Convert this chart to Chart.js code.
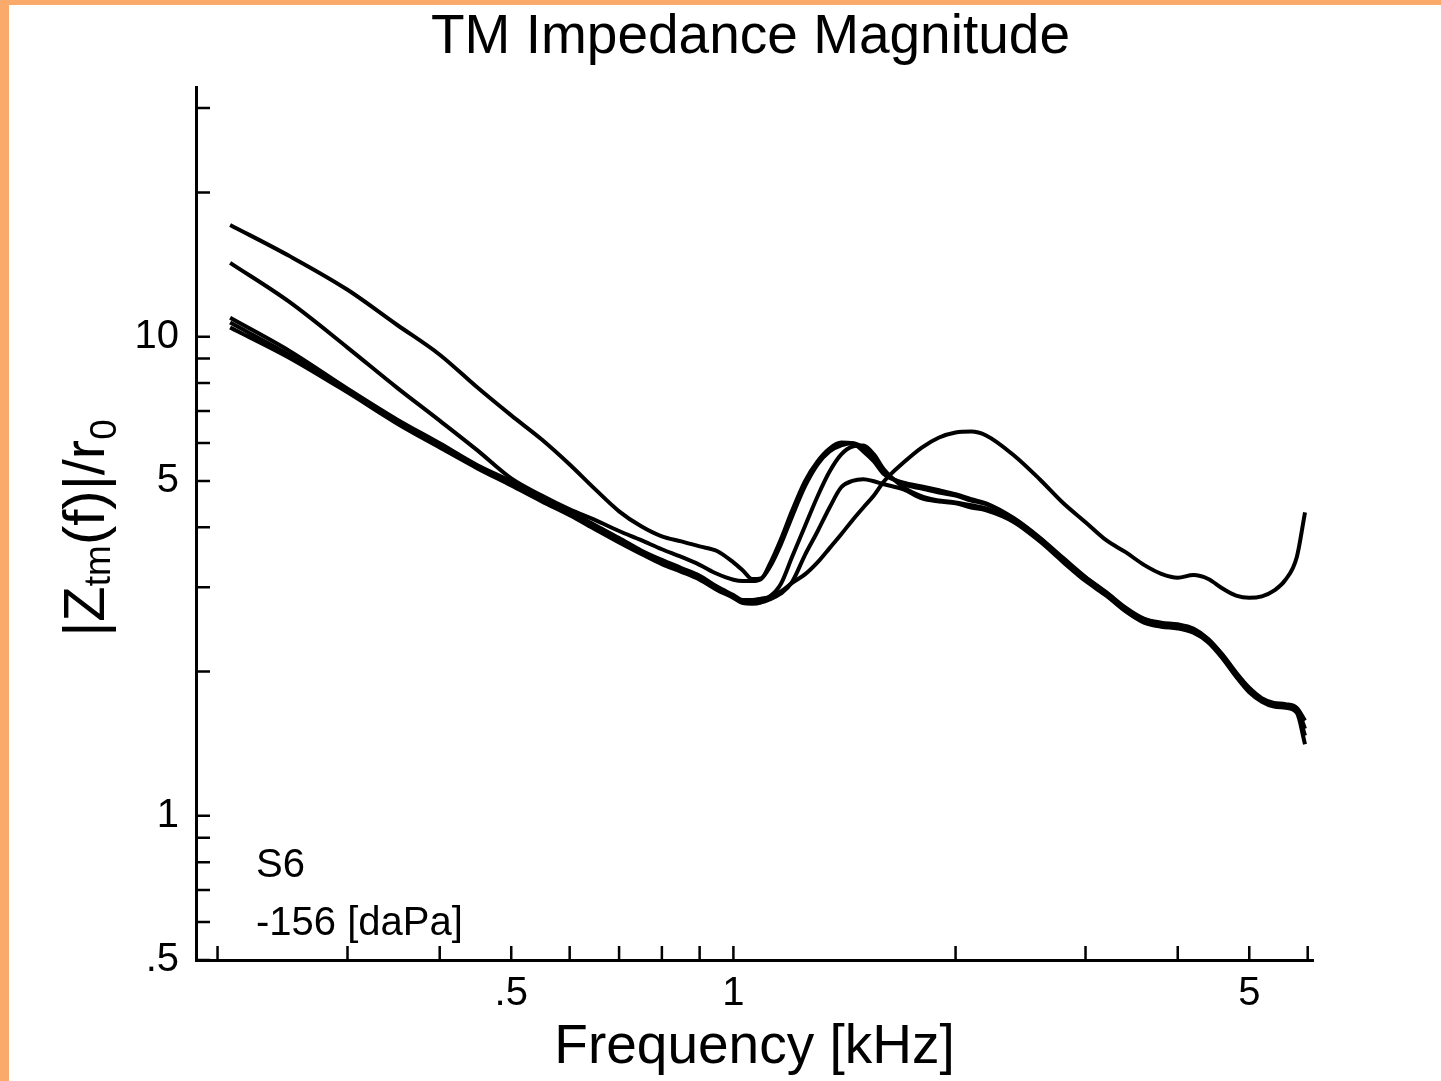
<!DOCTYPE html>
<html>
<head>
<meta charset="utf-8">
<title>TM Impedance Magnitude</title>
<script src="https://cdn.jsdelivr.net/npm/chart.js@4.4.1/dist/chart.umd.min.js"></script>
<style>
  html, body { margin: 0; padding: 0; background: #fff; }
  #wrap { width: 1441px; height: 1081px; }
</style>
</head>
<body>
<div id="wrap"><canvas id="zChart" width="1441" height="1081"></canvas></div>
<script>
// frequency grid [kHz], shared by every trace
const freqKHz = [0.208, 0.25, 0.3, 0.35, 0.4, 0.45, 0.5, 0.55, 0.6, 0.65,
  0.7, 0.75, 0.8, 0.85, 0.9, 0.95, 1.0, 1.03, 1.06, 1.09,
  1.12, 1.16, 1.2, 1.25, 1.3, 1.35, 1.4, 1.45, 1.5, 1.55,
  1.6, 1.7, 1.8, 1.9, 2.0, 2.1, 2.2, 2.4, 2.6, 2.8,
  3.0, 3.2, 3.4, 3.6, 3.8, 4.0, 4.2, 4.4, 4.6, 4.8,
  5.0, 5.2, 5.4, 5.6, 5.8, 5.95];

// |Ztm(f)|/r0, one array per trace
const zTrace1 = [17.11, 14.75, 12.53, 10.59, 9.17, 7.83, 6.85, 6.10, 5.41, 4.80,
  4.32, 4.02, 3.83, 3.74, 3.65, 3.57, 3.38, 3.25, 3.12, 3.13,
  3.35, 3.78, 4.32, 4.99, 5.49, 5.84, 6.01, 5.99, 5.76, 5.49,
  5.16, 4.96, 4.87, 4.78, 4.69, 4.58, 4.49, 4.18, 3.81, 3.45,
  3.15, 2.93, 2.72, 2.58, 2.53, 2.51, 2.46, 2.34, 2.17, 1.99,
  1.85, 1.76, 1.72, 1.71, 1.68, 1.58];
const zTrace2 = [14.26, 11.83, 9.49, 7.83, 6.68, 5.79, 5.06, 4.66, 4.36, 4.14,
  3.93, 3.76, 3.60, 3.47, 3.34, 3.20, 3.11, 3.09, 3.09, 3.12,
  3.30, 3.69, 4.20, 4.87, 5.41, 5.76, 5.93, 5.99, 5.87, 5.60,
  5.23, 4.92, 4.82, 4.73, 4.66, 4.55, 4.47, 4.16, 3.80, 3.43,
  3.14, 2.92, 2.71, 2.57, 2.52, 2.49, 2.45, 2.33, 2.16, 1.98,
  1.84, 1.75, 1.71, 1.70, 1.67, 1.52];
const zTrace3 = [10.95, 9.35, 7.79, 6.72, 5.99, 5.39, 4.99, 4.62, 4.32, 4.04,
  3.80, 3.58, 3.42, 3.29, 3.17, 3.01, 2.89, 2.82, 2.82, 2.84,
  2.87, 3.05, 3.46, 4.02, 4.64, 5.23, 5.68, 5.90, 5.93, 5.68,
  5.28, 4.85, 4.64, 4.55, 4.51, 4.45, 4.38, 4.12, 3.76, 3.40,
  3.11, 2.89, 2.68, 2.54, 2.49, 2.47, 2.42, 2.31, 2.14, 1.96,
  1.82, 1.74, 1.70, 1.69, 1.66, 1.47];
const zTrace4 = [10.70, 9.17, 7.72, 6.62, 5.93, 5.36, 4.94, 4.58, 4.28, 4.00,
  3.76, 3.55, 3.38, 3.26, 3.14, 2.99, 2.87, 2.80, 2.78, 2.79,
  2.83, 2.91, 3.07, 3.50, 3.92, 4.40, 4.85, 5.00, 5.04, 4.99,
  4.92, 4.80, 4.60, 4.53, 4.49, 4.40, 4.34, 4.10, 3.74, 3.38,
  3.09, 2.88, 2.67, 2.53, 2.48, 2.46, 2.41, 2.30, 2.13, 1.95,
  1.81, 1.73, 1.69, 1.68, 1.64, 1.41];
const zTrace5 = [10.45, 9.04, 7.65, 6.59, 5.87, 5.31, 4.89, 4.53, 4.24, 3.96,
  3.72, 3.52, 3.35, 3.23, 3.11, 2.96, 2.85, 2.78, 2.77, 2.79,
  2.86, 2.94, 3.06, 3.19, 3.38, 3.62, 3.87, 4.14, 4.40, 4.66,
  4.99, 5.46, 5.87, 6.16, 6.31, 6.34, 6.22, 5.65, 5.04, 4.49,
  4.10, 3.76, 3.55, 3.34, 3.20, 3.14, 3.18, 3.12, 2.98, 2.88,
  2.85, 2.87, 2.95, 3.11, 3.47, 4.30];

// axis ticks and the labels shown on them
const xTickValues = [0.2, 0.3, 0.4, 0.5, 0.6, 0.7, 0.8, 0.9, 1, 2, 3, 4, 5, 6];
const xTickText   = ['', '', '', '.5', '', '', '', '', '1', '', '', '', '5', ''];
const yTickValues = [0.5, 0.6, 0.7, 0.8, 0.9, 1, 2, 3, 4, 5, 6, 7, 8, 9, 10, 20, 30];
const yTickText   = ['.5', '', '', '', '', '1', '', '', '', '5', '', '', '', '', '10', '', ''];

const FONT = "'Liberation Sans', Arial, Helvetica, sans-serif";

function labelFor(values, texts, v) {
    const i = values.findIndex(t => Math.abs(t - v) < 1e-9);
    return i < 0 ? '' : texts[i];
}

// white page with the orange frame strips on the left and top
const pageFrame = {
    id: 'pageFrame',
    beforeDraw(chart) {
        const ctx = chart.ctx;
        ctx.save();
        ctx.fillStyle = '#ffffff';
        ctx.fillRect(0, 0, chart.width, chart.height);
        ctx.fillStyle = '#faab6b';
        ctx.fillRect(0, 0, 9, chart.height);
        ctx.fillRect(0, 0, chart.width, 5);
        ctx.restore();
    }
};

// tick marks point into the plot, plus y title and the note at bottom left
const extras = {
    id: 'extras',
    afterDraw(chart) {
        const {ctx, chartArea, scales} = chart;
        ctx.save();
        ctx.strokeStyle = '#000';
        ctx.lineWidth = 2.5;
        ctx.beginPath();
        xTickValues.forEach(v => {
            const px = scales.x.getPixelForValue(v);
            ctx.moveTo(px, chartArea.bottom);
            ctx.lineTo(px, chartArea.bottom - 14);
        });
        yTickValues.forEach(v => {
            const py = scales.y.getPixelForValue(v);
            ctx.moveTo(chartArea.left, py);
            ctx.lineTo(chartArea.left + 14, py);
        });
        ctx.stroke();

        // |Z_tm(f)|/r_0, rotated
        const parts = [
            { t: '|Z', size: 58, dy: 0 },
            { t: 'tm', size: 37, dy: 6 },
            { t: '(f)|/r', size: 58, dy: 0 },
            { t: '0', size: 37, dy: 12 }
        ];
        let total = 0;
        parts.forEach(p => {
            ctx.font = p.size + 'px ' + FONT;
            p.w = ctx.measureText(p.t).width;
            total += p.w;
        });
        ctx.translate(104, 528);
        ctx.rotate(-Math.PI / 2);
        ctx.fillStyle = '#000';
        ctx.textBaseline = 'alphabetic';
        ctx.textAlign = 'left';
        let x = -total / 2;
        parts.forEach(p => {
            ctx.font = p.size + 'px ' + FONT;
            ctx.fillText(p.t, x, p.dy);
            x += p.w;
        });
        ctx.setTransform(1, 0, 0, 1, 0, 0);

        ctx.font = '40px ' + FONT;
        ctx.fillStyle = '#000';
        ctx.textAlign = 'left';
        ctx.textBaseline = 'alphabetic';
        ctx.fillText('S6', 256, 877);
        ctx.fillText('-156 [daPa]', 256, 935);
        ctx.restore();
    }
};

const traces = [zTrace1, zTrace2, zTrace3, zTrace4, zTrace5];

new Chart(document.getElementById('zChart'), {
    type: 'line',
    data: {
        datasets: traces.map((vals, k) => ({
            label: 'trace ' + (k + 1),
            data: freqKHz.map((f, i) => ({ x: f, y: vals[i] })),
            borderColor: '#000',
            borderWidth: 4,
            pointRadius: 0,
            fill: false,
            cubicInterpolationMode: 'monotone'
        }))
    },
    options: {
        responsive: false,
        devicePixelRatio: 1,
        animation: false,
        layout: { padding: { left: 60, right: 0, top: 0, bottom: 0 } },
        plugins: {
            legend: { display: false },
            tooltip: { enabled: false },
            title: {
                display: true,
                text: 'TM Impedance Magnitude',
                color: '#000',
                font: { family: FONT, size: 55, weight: 'normal' },
                padding: { top: 5, bottom: 16 }
            }
        },
        scales: {
            x: {
                type: 'logarithmic',
                min: 0.187,
                max: 6.1,
                grid: { display: false },
                border: { display: true, color: '#000', width: 3 },
                ticks: {
                    autoSkip: false,
                    maxRotation: 0,
                    minRotation: 0,
                    padding: 2,
                    color: '#000',
                    font: { family: FONT, size: 40 },
                    callback: v => labelFor(xTickValues, xTickText, v)
                },
                title: {
                    display: true,
                    text: 'Frequency [kHz]',
                    color: '#000',
                    font: { family: FONT, size: 55 },
                    padding: { top: 0, bottom: 0 }
                },
                afterBuildTicks: s => { s.ticks = xTickValues.map(v => ({ value: v })); },
                afterFit: s => { s.height = 121; }
            },
            y: {
                type: 'logarithmic',
                position: 'left',
                min: 0.5,
                max: 33.2,
                grid: { display: false },
                border: { display: true, color: '#000', width: 3 },
                ticks: {
                    autoSkip: false,
                    padding: 9,
                    color: '#000',
                    font: { family: FONT, size: 40 },
                    callback: v => labelFor(yTickValues, yTickText, v)
                },
                afterBuildTicks: s => { s.ticks = yTickValues.map(v => ({ value: v })); },
                afterFit: s => { s.width = 136; }
            },
            // empty right-hand band so the plot ends where the reference does
            yRight: {
                type: 'linear',
                position: 'right',
                grid: { display: false },
                border: { display: false },
                ticks: { display: false },
                afterFit: s => { s.width = 128; }
            }
        }
    },
    plugins: [pageFrame, extras]
});
</script>
</body>
</html>
